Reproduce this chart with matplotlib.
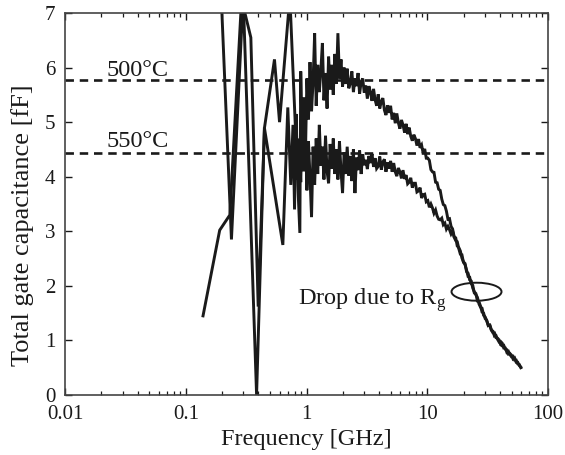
import matplotlib
matplotlib.use("Agg")
import matplotlib.pyplot as plt
from matplotlib.patches import Ellipse
from matplotlib.ticker import LogLocator, FixedLocator, FixedFormatter, NullFormatter

plt.rcParams['font.family'] = ['Liberation Serif', 'DejaVu Serif']
plt.rcParams['mathtext.fontset'] = 'custom'
plt.rcParams['mathtext.rm'] = 'Liberation Serif'
plt.rcParams['mathtext.it'] = 'Liberation Serif:italic'

# ---------------- data ----------------
# sparse low-frequency points (GHz, fF)
freq_a_low = [0.139, 0.191, 0.232, 0.290, 0.346, 0.398, 0.449, 0.543, 0.598, 0.728, 0.881]
cap_a_low = [1.45, 3.02, 3.30, 7.25, 6.55, 1.62, 4.90, 6.15, 5.00, 7.30, 2.97]

freq_b_low = [0.171, 0.239, 0.299, 0.386, 0.448, 0.637, 0.700, 0.741, 0.773, 0.796, 0.820, 0.844, 0.869]
cap_b_low = [10.5, 2.85, 7.30, 0.00, 4.90, 2.75, 5.27, 3.85, 4.95, 3.40, 5.15, 3.95, 4.70]

# dense part, shared frequency points (GHz)
freq_hi = [
    0.896, 0.922, 0.950, 0.979, 1.008, 1.038, 1.069, 1.101, 1.134, 1.168,
    1.203, 1.239, 1.277, 1.315, 1.354, 1.395, 1.437, 1.480, 1.524, 1.570,
    1.617, 1.666, 1.716, 1.767, 1.820, 1.875, 1.931, 1.989, 2.049, 2.110,
    2.173, 2.238, 2.306, 2.375, 2.446, 2.519, 2.595, 2.673, 2.753, 2.835,
    2.920, 3.008, 3.098, 3.191, 3.287, 3.386, 3.487, 3.592, 3.699, 3.810,
    3.925, 4.042, 4.164, 4.288, 4.417, 4.550, 4.686, 4.827, 4.971, 5.121,
    5.274, 5.433, 5.596, 5.763, 5.936, 6.114, 6.298, 6.487, 6.681, 6.882,
    7.088, 7.301, 7.520, 7.745, 7.978, 8.217, 8.464, 8.718, 8.979, 9.249,
    9.526, 9.812, 10.11, 10.41, 10.72, 11.04, 11.37, 11.72, 12.07, 12.43,
    12.80, 13.19, 13.58, 13.99, 14.41, 14.84, 15.29, 15.75, 16.22, 16.71,
    17.21, 17.72, 18.26, 18.80, 19.37, 19.95, 20.55, 21.16, 21.80, 22.45,
    23.12, 23.82, 24.53, 25.27, 26.03, 26.81, 27.61, 28.44, 29.29, 30.17,
    31.08, 32.01, 32.97, 33.96, 34.98, 36.03, 37.11, 38.22, 39.37, 40.55,
    41.77, 43.02, 44.31, 45.64, 47.01, 48.42, 49.87, 51.37, 52.91, 54.50,
    56.13, 57.82, 59.55,
]

# 500 C (upper trace)
cap_a_hi = [
    5.93, 4.60, 5.45, 4.35, 5.80, 5.05, 6.10, 5.20, 5.75, 6.63,
    5.30, 6.05, 5.55, 5.95, 6.45, 5.40, 5.90, 5.25, 6.20, 5.60,
    6.05, 5.50, 6.25, 5.70, 6.63, 5.80, 6.15, 5.65, 6.00, 5.70,
    5.98, 5.62, 5.71, 5.93, 5.55, 5.80, 5.66, 5.90, 5.52, 5.74,
    5.80, 5.54, 5.67, 5.43, 5.66, 5.55, 5.39, 5.61, 5.41, 5.30,
    5.51, 5.25, 5.38, 5.44, 5.22, 5.13, 5.31, 5.17, 5.30, 5.05,
    5.17, 4.98, 5.16, 4.99, 4.88, 5.04, 4.95, 4.81, 4.97, 4.78,
    4.90, 4.74, 4.66, 4.77, 4.70, 4.57, 4.69, 4.53, 4.58, 4.43,
    4.51, 4.34, 4.34, 4.30, 4.13, 4.09, 4.08, 3.90, 3.89, 3.77,
    3.75, 3.59, 3.49, 3.47, 3.37, 3.22, 3.23, 3.09, 3.04, 2.90,
    2.88, 2.73, 2.70, 2.64, 2.51, 2.44, 2.41, 2.26, 2.23, 2.11,
    2.09, 1.96, 1.89, 1.86, 1.72, 1.71, 1.63, 1.52, 1.50, 1.40,
    1.37, 1.27, 1.28, 1.19, 1.14, 1.14, 1.05, 1.04, 1.01, 0.92,
    0.90, 0.91, 0.84, 0.83, 0.75, 0.76, 0.73, 0.66, 0.68, 0.60,
    0.60, 0.54, 0.51,
]

# 550 C (lower trace)
cap_b_hi = [
    3.90, 5.05, 4.10, 4.80, 3.75, 4.65, 4.00, 3.26, 4.55, 3.85,
    4.70, 4.05, 4.95, 4.20, 4.55, 3.95, 4.75, 4.10, 3.88, 4.60,
    4.15, 4.70, 4.05, 4.50, 3.95, 4.65, 4.10, 3.70, 4.45, 4.05,
    4.55, 4.02, 4.38, 3.92, 4.50, 3.70, 4.35, 4.12, 4.48, 4.05,
    4.41, 4.21, 4.31, 4.14, 4.38, 4.25, 4.42, 4.18, 4.34, 4.15,
    4.19, 4.37, 4.13, 4.27, 4.32, 4.09, 4.26, 4.15, 4.29, 4.09,
    4.25, 4.09, 4.01, 4.16, 4.09, 3.97, 4.12, 3.96, 4.03, 3.87,
    3.90, 3.98, 3.80, 3.88, 3.88, 3.72, 3.74, 3.80, 3.61, 3.67,
    3.68, 3.54, 3.56, 3.44, 3.50, 3.43, 3.33, 3.39, 3.28, 3.22,
    3.21, 3.24, 3.12, 3.15, 3.04, 3.09, 3.03, 2.95, 3.00, 2.89,
    2.83, 2.81, 2.68, 2.58, 2.57, 2.43, 2.39, 2.29, 2.17, 2.16,
    2.04, 2.01, 1.87, 1.84, 1.79, 1.67, 1.61, 1.59, 1.46, 1.43,
    1.36, 1.28, 1.28, 1.19, 1.17, 1.08, 1.09, 1.02, 0.97, 0.98,
    0.95, 0.86, 0.86, 0.78, 0.80, 0.74, 0.70, 0.71, 0.64, 0.64,
    0.57, 0.56, 0.50,
]

ref_levels = [5.77, 4.43]
ref_labels = ['500°C', '550°C']
ref_label_y = [5.85, 4.54]

x_ticks = [0.01, 0.1, 1, 10, 100]
x_tick_labels = ['0.01', '0.1', '1', '10', '100']
y_ticks = [0, 1, 2, 3, 4, 5, 6, 7]

# ---------------- figure ----------------
fig = plt.figure(figsize=(5.65, 4.55), dpi=100)
ax = fig.add_axes([65/565, 60/455, 483/565, 382/455])

fa = freq_a_low + freq_hi
ca = cap_a_low + cap_a_hi
fb = freq_b_low + freq_hi
cb = cap_b_low + cap_b_hi

ax.plot(fb, cb, color='#1a1a1a', lw=2.1, solid_joinstyle='miter')
ax.plot(fa, ca, color='#1a1a1a', lw=2.1, solid_joinstyle='miter')

for lvl, lab, ly in zip(ref_levels, ref_labels, ref_label_y):
    ax.axhline(lvl, color='#1a1a1a', lw=1.9, linestyle=(0, (3.2, 2.2)))
    ax.text(0.0222, ly, lab, fontsize=17.5, va='baseline', ha='left', color='#1a1a1a')

ax.text(0.847, 1.65, 'Drop due to R$_{\\rm g}$', fontsize=17.5, va='baseline', ha='left', color='#1a1a1a')
ax.add_patch(Ellipse((0.852, 0.2704), 0.1035, 0.0471, transform=ax.transAxes,
                     fill=False, lw=1.4, color='#1a1a1a'))

ax.set_xscale('log')
ax.set_xlim(0.01, 100)
ax.set_ylim(0, 7)
ax.xaxis.set_major_locator(FixedLocator(x_ticks))
ax.xaxis.set_major_formatter(FixedFormatter(x_tick_labels))
ax.xaxis.set_minor_locator(LogLocator(base=10, subs=range(2, 10)))
ax.xaxis.set_minor_formatter(NullFormatter())
ax.set_yticks(y_ticks)
ax.set_yticklabels([str(v) for v in y_ticks])

ax.tick_params(which='both', direction='in', top=True, right=True, labelsize=15, colors='#1a1a1a')
ax.tick_params(which='major', length=5, width=1.0)
ax.tick_params(which='minor', length=2.8, width=0.9)
ax.tick_params(axis='x', which='major', pad=7)
ax.tick_params(axis='y', which='major', pad=7)
for s in ax.spines.values():
    s.set_color('#444444')
    s.set_linewidth(1.2)

ax.set_xlabel('Frequency [GHz]', fontsize=17.5, color='#1a1a1a')
ax.xaxis.set_label_coords(0.5, -0.088)
ax.set_ylabel('Total gate capacitance [fF]', fontsize=19, color='#1a1a1a')
ax.yaxis.set_label_coords(-0.064, 0.445)

fig.savefig('out.png', dpi=100, facecolor='white')
